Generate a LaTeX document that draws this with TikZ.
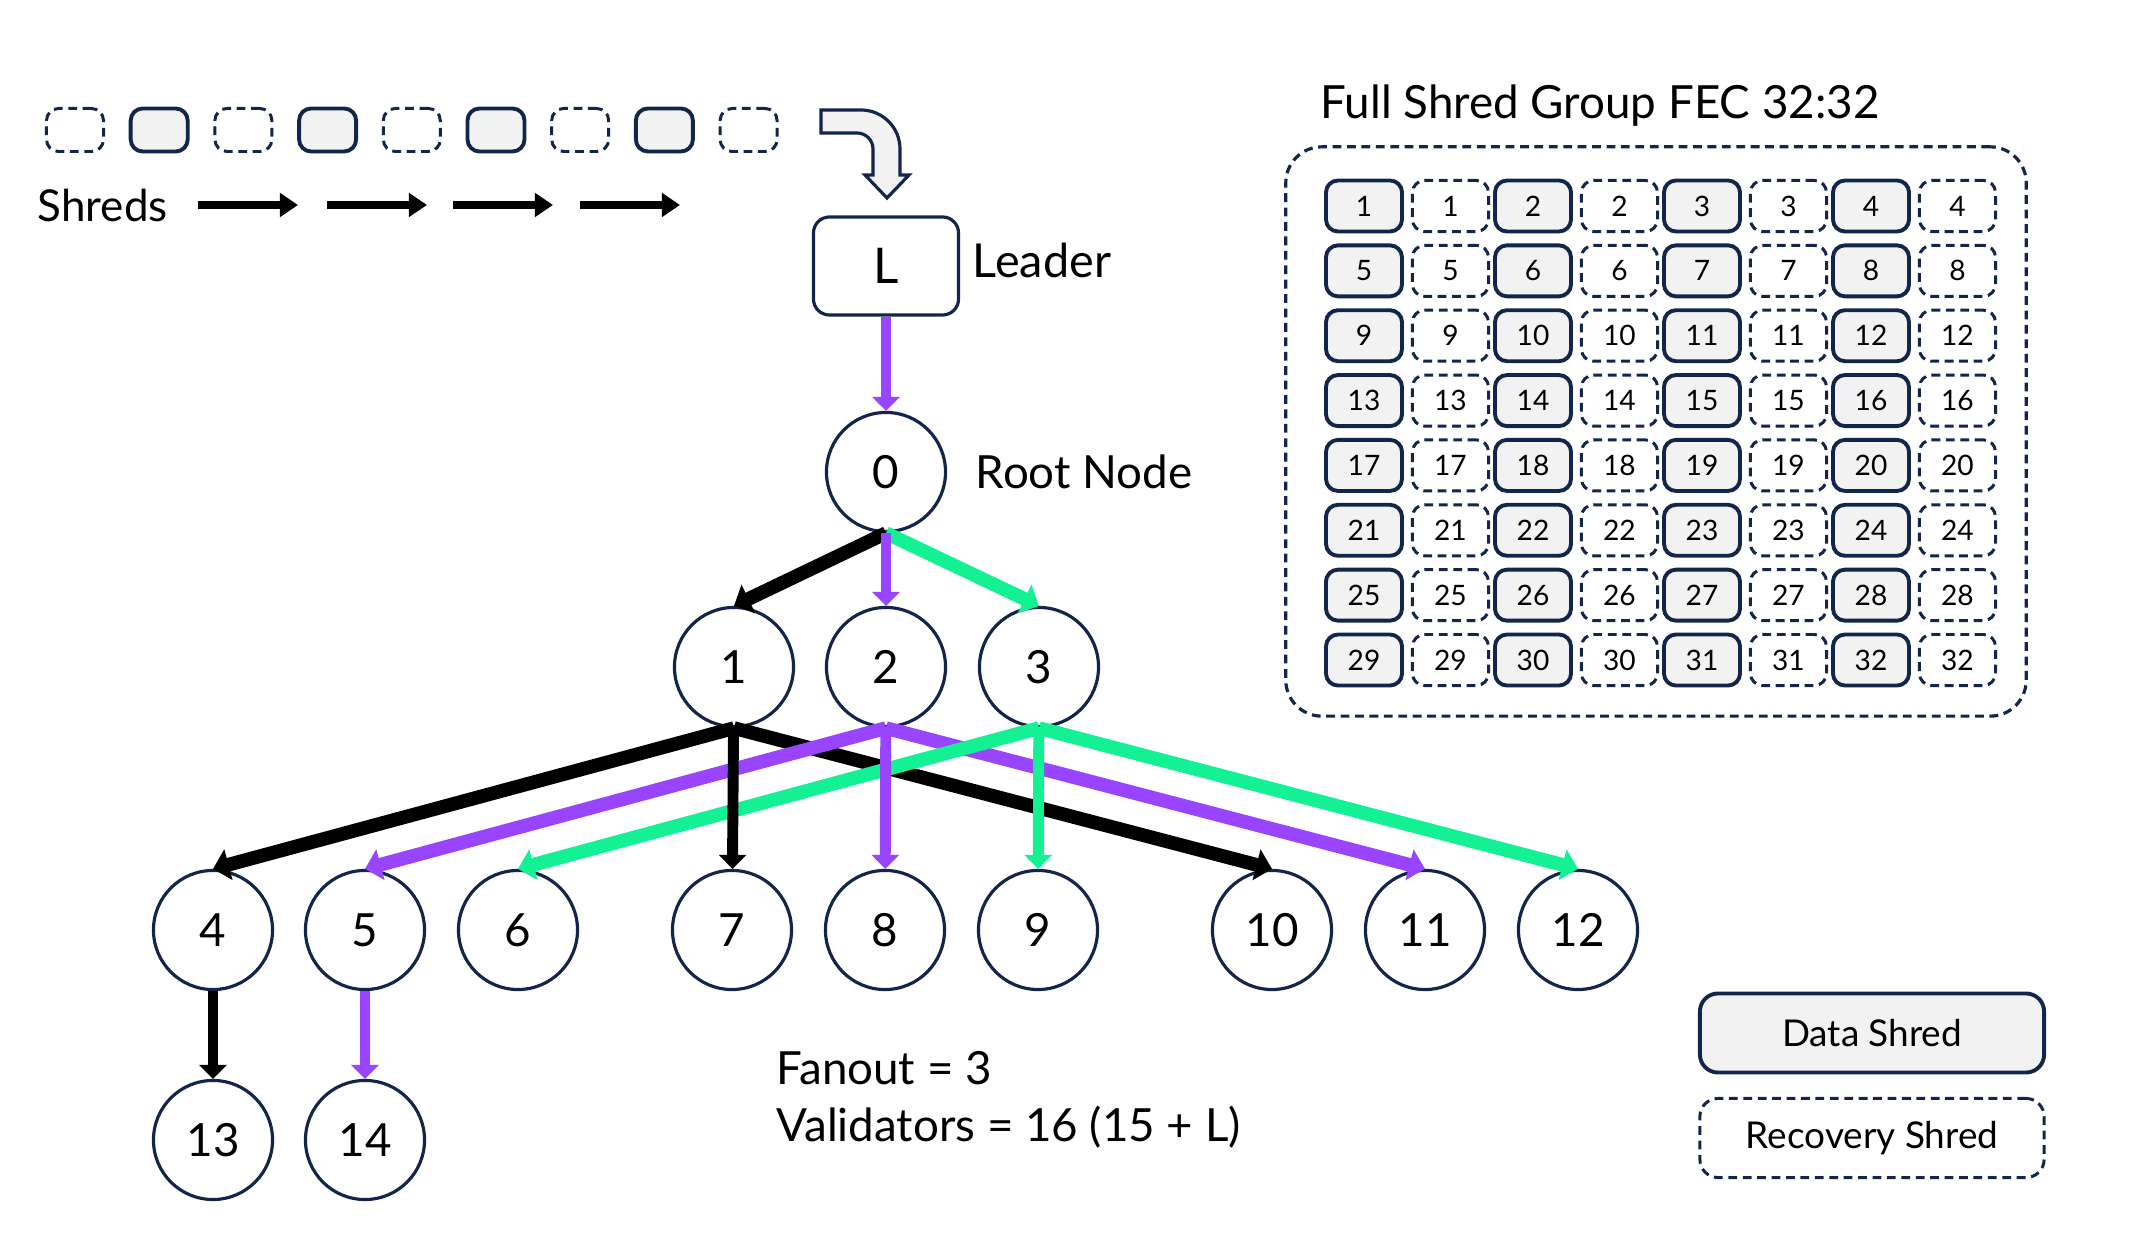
\documentclass[tikz,border=0pt]{standalone}
\usepackage{fontspec}
\setmainfont{Lato}
\usepackage{xcolor}
\usepackage{tikz}
\usetikzlibrary{arrows.meta, positioning, calc}
\definecolor{navy}{HTML}{13254A}
\definecolor{solpurple}{HTML}{9945FF}
\definecolor{solgreen}{HTML}{14F195}
\definecolor{shredgray}{HTML}{F2F2F2}
\tikzstyle{valnode} = [draw=navy, circle, line width=0.9pt, minimum size=1.19cm, inner sep=0pt, fill=white, font=\fontsize{13}{15}\selectfont]
\tikzstyle{leaderbox} = [draw=navy, rectangle, rounded corners=0.16cm, line width=0.9pt, minimum width=1.45cm, minimum height=0.98cm, font=\fontsize{14}{16}\selectfont]
\tikzstyle{bigtext} = [font=\fontsize{13}{16}\selectfont, inner sep=0pt]
\tikzstyle{datashred} = [draw=navy, fill=shredgray, rectangle, rounded corners=0.12cm, line width=1.1pt, inner sep=0pt]
\tikzstyle{recshred} = [draw=navy, fill=white, rectangle, rounded corners=0.12cm, line width=0.85pt, dash pattern=on 2.5pt off 1.6pt, inner sep=0pt]
\tikzstyle{smallshred} = [minimum width=0.57cm, minimum height=0.43cm]
\tikzstyle{cell} = [minimum width=0.76cm, minimum height=0.51cm, font=\fontsize{8}{9}\selectfont]
\tikzstyle{fatarrw} = [line width=3.9pt, -{Triangle[length=0.16cm, width=0.31cm]}]
\tikzstyle{thinarrw} = [line width=3.1pt, -{Triangle[length=0.14cm, width=0.27cm]}]

\begin{document}
\begin{tikzpicture}[x=0.01cm, y=-0.01cm]
    \useasboundingbox [fill=white] (0,0) rectangle (2138,1237);

    % incoming shreds
    \foreach \i in {0,2,4,6,8}
        \node (sq\i) [recshred, smallshred] at ({75+84.2*\i},130) {};
    \foreach \i in {1,3,5,7}
        \node (sq\i) [datashred, smallshred] at ({75+84.2*\i},130) {};
    \node (shredlbl) [bigtext, anchor=west, font=\fontsize{12.5}{15}\selectfont] at (37,205) {Shreds};
    \foreach \x in {198,327,453,580}
        \draw [line width=2.2pt, -{Triangle[length=0.18cm, width=0.23cm]}] (\x,205) -- ++(100,0);

    % bent arrow into the leader
    \draw [draw=navy, fill=shredgray, line width=0.9pt]
        (821,110) [rounded corners=0.39cm] -- (900,110) [sharp corners] -- (900,175)
        -- (909,175) -- (887,198) -- (865,175) -- (873,175)
        [rounded corners=0.16cm] -- (873,133) [sharp corners] -- (821,133) -- cycle;

    % tree
    \node (leader) [leaderbox] at (886,266) {L};
    \node (leaderlbl) [bigtext, right=0.12cm of leader, yshift=0.06cm, font=\fontsize{13.3}{16}\selectfont] {Leader};
    \node (n0) [valnode] at (886,472) {0};
    \node (rootlbl) [bigtext, right=0.28cm of n0] {Root Node};
    \node (n1) [valnode] at (734,667) {1};
    \node (n2) [valnode] at (886,667) {2};
    \node (n3) [valnode] at (1039,667) {3};
    \foreach \n/\x in {4/213,5/365,6/518,7/732,8/885,9/1038,10/1272,11/1425,12/1578}
        \node (n\n) [valnode] at (\x,930) {\n};
    \node (n13) [valnode] at (213,1140) {13};
    \node (n14) [valnode] at (365,1140) {14};

    \draw [thinarrw, solpurple] (leader) -- (n0);
    \draw [fatarrw, black] (n0.south) -- (n1.north);
    \draw [fatarrw, solgreen] (n0.south) -- (n3.north);
    \draw [thinarrw, solpurple] (n0) -- (n2);

    \draw [fatarrw, black] (n1.south) -- (n4.north);
    \draw [fatarrw, black] (n1.south) -- (n10.north);
    \draw [fatarrw, solpurple] (n2.south) -- (n5.north);
    \draw [fatarrw, solpurple] (n2.south) -- (n11.north);
    \draw [fatarrw, solgreen] (n3.south) -- (n6.north);
    \draw [fatarrw, solgreen] (n3.south) -- (n12.north);
    \draw [thinarrw, black] (n1) -- (n7);
    \draw [thinarrw, solpurple] (n2) -- (n8);
    \draw [thinarrw, solgreen] (n3) -- (n9);
    \draw [thinarrw, black] (n4) -- (n13);
    \draw [thinarrw, solpurple] (n5) -- (n14);

    \node (fanout) [bigtext, anchor=west, align=left, font=\fontsize{13}{16.2}\selectfont] at (776,1100)
        {Fanout = 3\\Validators = 16 (15 + L)};

    % shred group
    \node (fectitle) [bigtext, anchor=west] at (1320,106) {Full Shred Group FEC 32:32};
    \node (frame) [draw=navy, rectangle, rounded corners=0.36cm, line width=0.9pt, dash pattern=on 2.5pt off 1.6pt,
        minimum width=7.4cm, minimum height=5.69cm] at (1656,431.5) {};
    \foreach \r in {0,...,7}
        \foreach \c in {0,...,3} {
            \pgfmathtruncatemacro{\k}{4*\r+\c+1}
            \node (d\k) [datashred, cell] at ({1364+169*\c},{206+64.86*\r}) {\k};
            \node (r\k) [recshred, cell, right=0.07cm of d\k] {\k};
        }

    % legend
    \node (datalgd) [datashred, rounded corners=0.18cm, minimum width=3.44cm, minimum height=0.79cm,
        font=\fontsize{10.5}{12}\selectfont] at (1872,1033) {Data Shred};
    \node (reclgd) [recshred, rounded corners=0.18cm, minimum width=3.44cm, minimum height=0.79cm,
        font=\fontsize{10.5}{12}\selectfont] at (1872,1138) {Recovery Shred};
\end{tikzpicture}
\end{document}
